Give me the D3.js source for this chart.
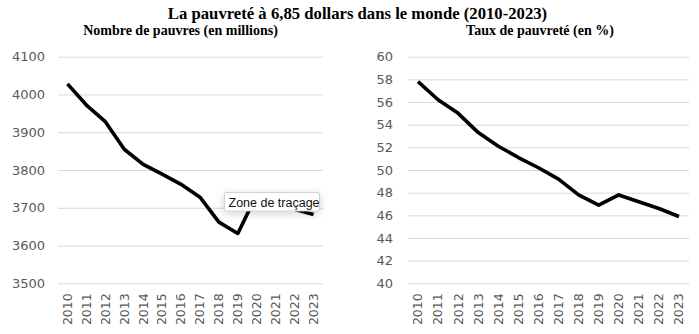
<!DOCTYPE html>
<html><head><meta charset="utf-8">
<script src="https://cdn.jsdelivr.net/npm/d3@7"></script>
<style>
body{margin:0;background:#fff;}
svg{display:block;}
</style></head>
<body>
<svg id="c" width="699" height="334"></svg>
<script>
const years = [2010,2011,2012,2013,2014,2015,2016,2017,2018,2019,2020,2021,2022,2023];
const poorMillions = [4028,3972,3928,3855,3815,3789,3762,3728,3662,3632,3735,3715,3696,3682];
const povertyRate = [57.8,56.2,55.0,53.3,52.1,51.1,50.2,49.2,47.8,46.9,47.8,47.2,46.6,45.9];
const leftTicks = [3500,3600,3700,3800,3900,4000,4100];
const rightTicks = [40,42,44,46,48,50,52,54,56,58,60];
const title = "La pauvreté à 6,85 dollars dans le monde (2010-2023)";
const leftTitle = "Nombre de pauvres (en millions)";
const rightTitle = "Taux de pauvreté (en %)";
const tooltipText = "Zone de traçage";

const svg = d3.select("#c");

svg.append("text").attr("x", 357.5).attr("y", 19).attr("text-anchor","middle")
  .attr("font-family","Liberation Serif, Times New Roman, serif").attr("font-weight","bold")
  .attr("font-size",16.7).attr("fill","#000").text(title);

function panel(cfg){
  const x = d3.scaleBand().domain(years).range([cfg.x0, cfg.x1]).padding(0);
  const y = d3.scaleLinear().domain(cfg.domain).range([283.3, 56.7]);
  const g = svg.append("g");
  const ya = g.append("g").attr("transform",`translate(${cfg.x0},0)`)
    .call(d3.axisLeft(y).tickValues(cfg.ticks).tickFormat(d3.format("d")).tickSize(-(cfg.x1-cfg.x0)).tickPadding(cfg.pad));
  ya.select(".domain").remove();
  ya.selectAll(".tick line").attr("stroke","#d9d9d9").attr("stroke-width",1);
  ya.selectAll(".tick text").attr("font-family","DejaVu Sans, sans-serif").attr("font-size",13).attr("fill","#595959");
  const xa = g.append("g").attr("transform",`translate(0,283.3)`)
    .call(d3.axisBottom(x).tickSize(0).tickPadding(0));
  xa.select(".domain").remove();
  xa.selectAll(".tick text").attr("font-family","DejaVu Sans, sans-serif").attr("font-size",12.5).attr("fill","#595959")
    .attr("transform","rotate(-90)").attr("text-anchor","end").attr("x",-10).attr("y",0).attr("dy","0.35em");
  const line = d3.line().x((d,i)=>x(years[i])+x.bandwidth()/2).y(d=>y(d));
  g.append("path").datum(cfg.values).attr("d",line).attr("fill","none")
    .attr("stroke","#000").attr("stroke-width",3.6).attr("stroke-linejoin","round");
  svg.append("text").attr("x",cfg.tx).attr("y",35).attr("text-anchor","middle")
    .attr("font-family","Liberation Serif, Times New Roman, serif").attr("font-weight","bold")
    .attr("font-size",14).attr("fill","#000").text(cfg.title);
}
panel({x0:58,x1:323,domain:[3500,4100],ticks:leftTicks,values:poorMillions,title:leftTitle,tx:180.5,pad:13});
panel({x0:408,x1:689,domain:[40,60],ticks:rightTicks,values:povertyRate,title:rightTitle,tx:540,pad:15});

// tooltip overlay
const defs = svg.append("defs");
const f = defs.append("filter").attr("id","sh").attr("x","-30%").attr("y","-60%").attr("width","160%").attr("height","260%");
f.append("feDropShadow").attr("dx",0).attr("dy",2).attr("stdDeviation",4).attr("flood-color","#000").attr("flood-opacity",0.18);
const tt = svg.append("g");
tt.append("rect").attr("x",224.5).attr("y",192.5).attr("width",95).attr("height",18.5).attr("rx",1.5)
  .attr("fill","#fff").attr("stroke","#c8c8c8").attr("stroke-width",0.8).attr("filter","url(#sh)");
tt.append("text").attr("x",228.5).attr("y",206.5).attr("font-family","Liberation Sans, Arial, sans-serif")
  .attr("font-size",12.5).attr("fill","#111").text(tooltipText);
</script>
</body></html>
